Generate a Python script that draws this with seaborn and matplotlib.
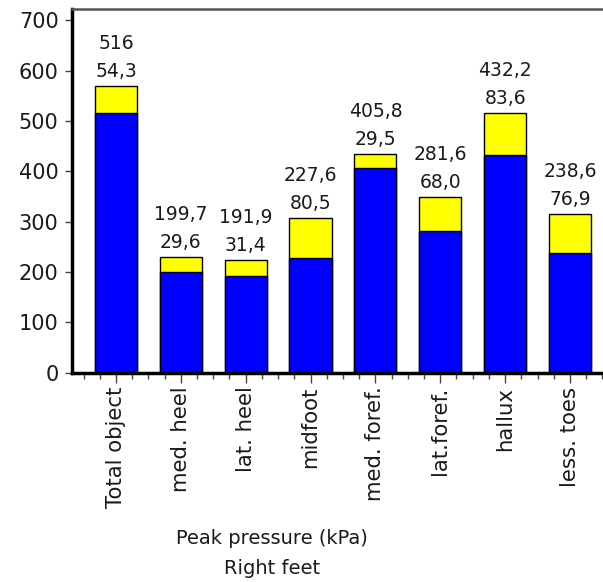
import matplotlib
matplotlib.use("Agg")
import matplotlib.pyplot as plt
from matplotlib.ticker import MultipleLocator
import seaborn as sns
import pandas as pd

regions = ["Total object", "med. heel", "lat. heel", "midfoot",
           "med. foref.", "lat.foref.", "hallux", "less. toes"]
peak_mean = [516, 199.7, 191.9, 227.6, 405.8, 281.6, 432.2, 238.6]
peak_sd = [54.3, 29.6, 31.4, 80.5, 29.5, 68.0, 83.6, 76.9]

sns.set_style("white")
plt.rcParams["font.family"] = ["DejaVu Sans"]
plt.rcParams["text.color"] = "#1a1a1a"

df = pd.DataFrame({"region": regions, "mean": peak_mean, "sd": peak_sd})
df["total"] = df["mean"] + df["sd"]


def fmt(v):
    if isinstance(v, int):
        return str(v)
    return f"{v:.1f}".replace(".", ",")


fig = plt.figure(figsize=(6.03, 5.82), dpi=100)
ax = fig.add_axes([0.1189, 0.3596, 0.8811, 0.6244])

bar_kw = dict(width=0.65, edgecolor="black", linewidth=1.0, ax=ax,
              order=regions)
sns.barplot(data=df, x="region", y="total", color="#FFFF00",
            saturation=1, **bar_kw)
sns.barplot(data=df, x="region", y="mean", color="#0000FF",
            saturation=1, **bar_kw)

for i, row in df.iterrows():
    top = row["total"]
    ax.annotate(fmt(peak_mean[i]), (i, top), xytext=(0, 30.5),
                textcoords="offset points", ha="center", va="center",
                fontsize=13.5, color="#1a1a1a")
    ax.annotate(fmt(peak_sd[i]), (i, top), xytext=(0, 10.5),
                textcoords="offset points", ha="center", va="center",
                fontsize=13.5, color="#1a1a1a")

ax.set_xlim(-0.683, 7.51)
ax.set_ylim(0, 722)
ax.yaxis.set_major_locator(MultipleLocator(100))
ax.xaxis.set_minor_locator(MultipleLocator(0.25))

ax.set_xlabel("")
ax.set_ylabel("")
ax.set_xticks(range(len(regions)))
ax.set_xticklabels(regions, rotation=90, fontsize=15.3, color="#1a1a1a")
ax.tick_params(axis="y", labelsize=15, length=5, width=1,
               color="#444444", direction="out", left=True, pad=4.5,
               labelcolor="#1a1a1a")
ax.tick_params(axis="x", which="major", length=7, width=1,
               color="#444444", direction="out", bottom=True, pad=3)
ax.tick_params(axis="x", which="minor", length=4, width=1,
               color="#444444", direction="out", bottom=True)

for side in ["left", "bottom"]:
    ax.spines[side].set_color("black")
    ax.spines[side].set_linewidth(2.5)
ax.spines["top"].set_color("#555555")
ax.spines["top"].set_linewidth(1.8)
ax.spines["right"].set_visible(False)

fig.text(0.451, 1 - 538 / 582, "Peak pressure (kPa)", ha="center",
         va="center", fontsize=14, color="#1a1a1a")
fig.text(0.451, 1 - 568 / 582, "Right feet", ha="center",
         va="center", fontsize=14, color="#1a1a1a")

fig.savefig("out.png", dpi=100)
